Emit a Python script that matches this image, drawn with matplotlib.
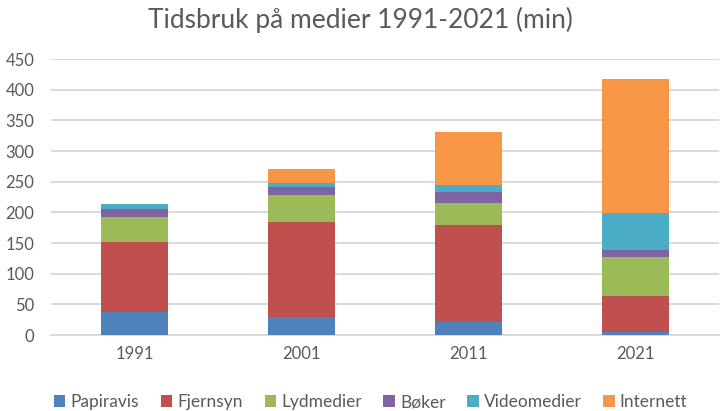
import matplotlib
matplotlib.use("Agg")
import matplotlib.pyplot as plt
import numpy as np

plt.rcParams['font.family'] = ['Lato', 'DejaVu Sans']

years = ["1991", "2001", "2011", "2021"]
series_names = ["Papiravis", "Fjernsyn", "Lydmedier", "Bøker", "Videomedier", "Internett"]
papiravis = [38, 29, 22, 5]
fjernsyn = [113, 156, 158, 58]
lydmedier = [41, 44, 36, 64]
boker = [14, 12, 17, 12]
videomedier = [8, 7, 12, 60]
internett = [0, 22, 86, 218]
colors = ["#4F81BD", "#C0504D", "#9BBB59", "#8064A2", "#4BACC6", "#F79646"]

data = [papiravis, fjernsyn, lydmedier, boker, videomedier, internett]

fig = plt.figure(figsize=(7.2, 4.11), dpi=100)
ax = fig.add_axes([51/720, 1-335/411, 668/720, 276/411])

x = np.arange(len(years))
bottom = np.zeros(len(years))
for name, vals, c in zip(series_names, data, colors):
    ax.bar(x, vals, width=0.4, bottom=bottom, color=c, label=name, zorder=3)
    bottom += np.array(vals)

ax.set_xlim(-0.5, 3.5)
ax.set_ylim(0, 450)
ax.set_yticks(range(0, 451, 50))
ax.set_xticks(x)
ax.set_xticklabels(years)
ax.yaxis.grid(True, color="#D9D9D9", linewidth=1.4, zorder=0)
ax.set_axisbelow(True)
for s in ["top", "right", "left"]:
    ax.spines[s].set_visible(False)
ax.spines["bottom"].set_color("#D9D9D9")
ax.spines["bottom"].set_linewidth(1.4)
ax.tick_params(axis="both", length=0, labelsize=12, labelcolor="#595959")
ax.tick_params(axis="y", pad=12)
ax.tick_params(axis="x", pad=8)

fig.text(0.5, 1-20/411, "Tidsbruk på medier 1991-2021 (min)", ha="center", va="center",
         fontsize=19, color="#595959")

fig.legend(loc="center", bbox_to_anchor=(0.515, 1-402/411), ncol=6, frameon=False,
           fontsize=12.5, handlelength=0.65, handleheight=0.65, handletextpad=0.3,
           columnspacing=1.25, labelcolor="#595959")

fig.savefig("out.png", dpi=100, facecolor="white")
